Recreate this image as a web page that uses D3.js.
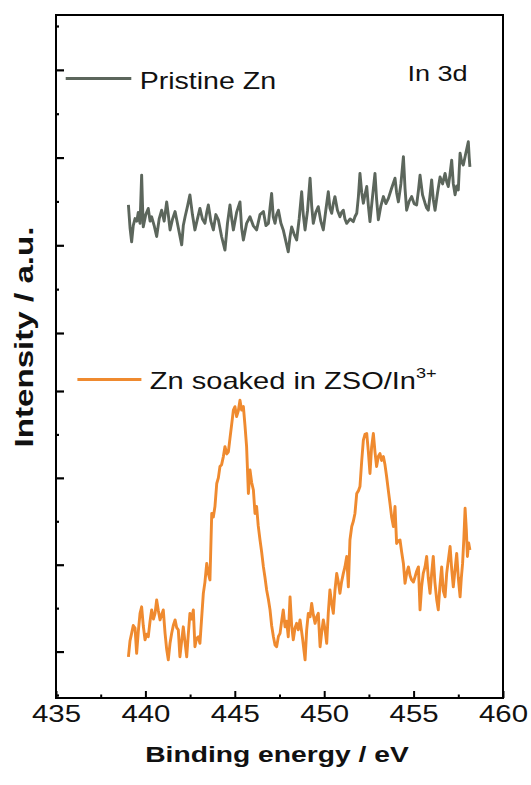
<!DOCTYPE html>
<html>
<head>
<meta charset="utf-8">
<script src="https://cdn.jsdelivr.net/npm/d3@7/dist/d3.min.js"></script>
<style>
  html, body { margin: 0; padding: 0; background: #fff; }
  svg { display: block; }
  text { font-family: "Liberation Sans", Arial, sans-serif; fill: #111; }
</style>
</head>
<body>
<svg id="chart" width="531" height="785"></svg>
<script>
// ---------------- DATA ----------------
const xTicks = [435, 440, 445, 450, 455, 460];
const xMinorTicks = [437.5, 442.5, 447.5, 452.5, 457.5];
const upperMajorTicks = [0, 2, 4, 6];
const upperMinorTicks = [1, 3, 5, 7];
const lowerMajorTicks = [1, 3, 5, 7];
const lowerMinorTicks = [0, 2, 4, 6];

const seriesNames = ["Pristine Zn", "Zn soaked in ZSO/In"];

// Pristine Zn (upper trace), arbitrary units
const energyPristine = [439.05,439.14,439.23,439.32,439.42,439.52,439.60,439.70,439.79,439.84,
  439.88,440.02,440.16,440.26,440.35,440.49,440.63,440.77,440.91,441.05,
  441.19,441.28,441.38,441.52,441.66,441.84,442.03,442.12,442.22,442.36,
  442.49,442.63,442.77,442.91,443.05,443.19,443.33,443.43,443.52,443.66,
  443.80,443.94,444.08,444.26,444.45,444.59,444.73,444.83,444.92,445.10,
  445.29,445.38,445.48,445.66,445.85,446.03,446.22,446.41,446.60,446.74,
  446.88,446.97,447.06,447.15,447.25,447.34,447.44,447.58,447.71,447.85,
  447.99,448.09,448.18,448.32,448.46,448.60,448.74,448.83,448.93,449.07,
  449.21,449.30,449.39,449.53,449.67,449.81,449.95,450.09,450.23,450.32,
  450.42,450.51,450.60,450.74,450.88,450.97,451.07,451.16,451.26,451.45,
  451.63,451.72,451.82,451.91,452.00,452.10,452.19,452.28,452.38,452.47,
  452.56,452.70,452.84,452.93,453.03,453.17,453.31,453.45,453.59,453.77,
  453.96,454.05,454.15,454.29,454.43,454.52,454.61,454.75,454.89,455.03,
  455.17,455.27,455.36,455.50,455.64,455.73,455.82,455.91,456.01,456.10,
  456.20,456.34,456.48,456.62,456.76,456.85,456.94,457.03,457.13,457.22,
  457.32,457.41,457.50,457.55,457.60,457.69,457.78,457.92,458.06,458.11,458.15];
const intensityPristine = [2.92,2.40,2.08,2.45,2.61,2.55,2.75,2.50,3.60,2.90,
  2.42,2.70,2.84,2.55,2.65,2.45,2.20,2.60,2.80,2.55,
  2.99,2.70,2.35,2.60,2.77,2.40,2.01,2.45,2.65,2.90,
  3.15,2.70,2.35,2.60,2.84,2.60,2.50,2.75,2.92,2.55,
  2.35,2.70,2.58,2.20,1.89,2.50,2.92,2.60,2.35,2.75,
  2.99,2.40,2.12,2.50,2.65,2.45,2.35,2.70,2.77,2.45,
  2.50,2.85,3.18,2.65,2.50,2.70,2.80,2.50,2.35,2.10,
  1.85,2.20,2.42,2.25,2.12,2.60,3.22,2.70,2.35,2.80,
  3.53,2.90,2.50,2.75,2.88,2.55,2.35,2.80,3.22,2.85,
  2.73,2.95,3.11,2.80,2.65,2.75,2.80,2.60,2.50,2.60,
  2.54,2.65,2.73,3.10,3.64,3.20,2.96,3.15,3.34,2.90,
  2.54,3.10,3.64,3.05,2.58,2.90,3.11,2.95,3.07,3.30,
  3.53,3.20,2.99,3.40,4.02,3.30,2.80,3.00,3.11,2.95,
  2.92,3.25,3.60,3.15,2.96,2.85,2.80,3.10,3.49,3.05,
  2.80,3.20,3.56,3.40,3.64,3.45,3.34,3.60,3.94,3.40,
  3.15,3.35,3.26,3.70,4.10,3.90,3.83,4.10,4.36,4.00,3.79];

// Zn soaked in ZSO/In3+ (lower trace), arbitrary units
const energySoaked = [439.05,439.14,439.23,439.32,439.42,439.51,439.60,439.70,439.79,439.88,
  439.98,440.07,440.16,440.26,440.35,440.45,440.54,440.63,440.72,440.82,
  440.91,441.00,441.10,441.19,441.28,441.38,441.47,441.56,441.66,441.75,
  441.84,441.93,442.03,442.12,442.22,442.31,442.40,442.49,442.59,442.68,
  442.77,442.86,442.96,443.05,443.15,443.24,443.33,443.43,443.52,443.61,
  443.71,443.80,443.89,443.99,444.08,444.17,444.26,444.36,444.45,444.55,
  444.64,444.73,444.83,444.92,445.01,445.10,445.20,445.29,445.38,445.48,
  445.57,445.66,445.76,445.85,445.94,446.04,446.13,446.22,446.31,446.41,
  446.50,446.60,446.69,446.78,446.88,446.97,447.06,447.16,447.25,447.34,
  447.44,447.53,447.62,447.71,447.81,447.90,447.99,448.09,448.18,448.27,
  448.37,448.46,448.55,448.65,448.79,448.93,449.02,449.11,449.21,449.30,
  449.39,449.49,449.58,449.67,449.77,449.86,449.95,450.05,450.14,450.23,
  450.32,450.42,450.51,450.60,450.70,450.79,450.88,450.97,451.07,451.16,
  451.26,451.35,451.44,451.54,451.63,451.72,451.82,451.91,452.00,452.10,
  452.19,452.28,452.38,452.47,452.56,452.65,452.75,452.84,452.93,453.03,
  453.12,453.21,453.31,453.40,453.49,453.59,453.68,453.77,453.87,453.96,
  454.05,454.15,454.24,454.33,454.43,454.52,454.61,454.71,454.80,454.89,
  454.99,455.08,455.17,455.27,455.36,455.45,455.54,455.64,455.73,455.82,
  455.92,456.01,456.10,456.19,456.29,456.38,456.47,456.57,456.66,456.76,
  456.85,456.94,457.04,457.13,457.22,457.32,457.41,457.50,457.60,457.67,
  457.74,457.81,457.88,457.95,458.01,458.08,458.15];
const intensitySoaked = [0.88,1.25,1.42,1.60,1.54,0.96,1.45,1.88,2.03,1.60,
  1.27,1.40,1.34,1.70,1.96,1.75,1.88,2.19,1.95,1.73,
  1.85,1.96,1.42,1.05,0.81,1.20,1.42,1.60,1.73,1.55,
  1.50,0.88,1.25,1.57,1.20,0.88,1.40,1.88,1.75,1.96,
  1.11,1.30,1.34,1.19,1.80,2.34,2.60,3.03,2.80,2.65,
  4.18,4.10,4.34,4.87,5.00,5.26,5.30,5.49,5.72,5.55,
  5.60,5.91,6.25,6.56,6.64,6.41,6.55,6.79,6.56,6.64,
  6.20,5.72,4.64,5.18,4.90,4.72,4.18,4.34,3.90,3.57,
  3.30,2.95,2.70,2.42,2.20,1.96,1.60,1.34,1.15,1.11,
  1.35,1.42,1.70,1.96,1.57,1.70,1.34,2.26,1.60,1.27,
  1.55,1.65,1.50,1.73,1.30,0.81,1.50,1.88,1.80,2.11,
  1.85,1.65,1.80,1.88,1.11,1.45,1.73,1.50,1.19,1.90,
  2.42,2.10,1.88,2.40,2.80,2.60,2.34,2.60,2.80,2.95,
  3.19,2.49,3.57,3.88,4.00,4.18,4.64,4.70,4.80,5.40,
  5.87,6.00,6.02,5.60,5.10,5.70,6.02,5.60,5.26,5.50,
  5.56,5.40,5.49,5.30,5.03,4.70,4.41,4.10,3.88,4.34,
  3.49,3.55,3.57,3.30,3.03,2.57,2.80,2.95,2.75,2.65,
  2.60,2.72,2.85,2.95,1.96,2.50,2.80,2.95,3.19,2.70,
  2.34,2.80,3.19,2.60,2.20,1.96,2.50,2.95,2.40,2.26,
  2.80,3.10,3.42,2.90,2.49,2.90,3.26,2.70,2.26,2.70,
  3.03,3.60,4.30,3.80,3.19,3.50,3.34];

// ---------------- LAYOUT ----------------
const svg = d3.select("#chart");
const L = 56, R = 503, T = 15, B = 698;
const grey = "#5c665c", orange = "#ef8a2f";

const x = d3.scaleLinear().domain([435, 460]).range([L, R]);
const yUp = d3.scaleLinear().domain([0, 7]).range([333, 26]);
const yLow = d3.scaleLinear().domain([0, 7]).range([695, 391]);

// curves
const line = (ys) => d3.line().x(d => x(d[0])).y(d => ys(d[1]));
const pristine = energyPristine.map((e, i) => [e, intensityPristine[i]]);
const soaked = energySoaked.map((e, i) => [e, intensitySoaked[i]]);

svg.append("path").datum(pristine)
  .attr("d", line(yUp)).attr("fill", "none")
  .attr("stroke", grey).attr("stroke-width", 2.9).attr("stroke-linejoin", "round");
svg.append("path").datum(soaked)
  .attr("d", line(yLow)).attr("fill", "none")
  .attr("stroke", orange).attr("stroke-width", 2.9).attr("stroke-linejoin", "round");

// bottom axis (major with labels)
const gx = svg.append("g").attr("transform", `translate(0,${B})`)
  .call(d3.axisBottom(x).tickValues(xTicks).tickSize(-7).tickPadding(6.8).tickFormat(d3.format("d")));
gx.select(".domain").remove();
gx.selectAll("line").attr("stroke", "#000").attr("stroke-width", 2);
gx.selectAll("text").attr("font-size", 24.5).attr("fill", "#111")
  .attr("font-family", "Liberation Sans, Arial, sans-serif")
  .attr("transform", "scale(1.2,1)");
const gxm = svg.append("g").attr("transform", `translate(0,${B})`)
  .call(d3.axisBottom(x).tickValues(xMinorTicks).tickSize(-3.5).tickFormat(""));
gxm.select(".domain").remove();
gxm.selectAll("line").attr("stroke", "#000").attr("stroke-width", 2);

// left axes (two stacked tick sets, no labels)
function leftTicks(scale, vals, size) {
  const g = svg.append("g").attr("transform", `translate(${L},0)`)
    .call(d3.axisLeft(scale).tickValues(vals).tickSize(-size).tickFormat(""));
  g.select(".domain").remove();
  g.selectAll("line").attr("stroke", "#000").attr("stroke-width", 2.2);
}
leftTicks(yUp, upperMajorTicks, 8);
leftTicks(yUp, upperMinorTicks, 3);
leftTicks(yLow, lowerMajorTicks, 8);
leftTicks(yLow, lowerMinorTicks, 3);

// frame
svg.append("rect").attr("x", L).attr("y", T).attr("width", R - L).attr("height", B - T)
  .attr("fill", "none").attr("stroke", "#000").attr("stroke-width", 2);

// axis titles
svg.append("text").attr("transform", "translate(277,762) scale(1.25,1)")
  .attr("text-anchor", "middle").attr("font-weight", "bold").attr("font-size", 22.6)
  .text("Binding energy / eV");
svg.append("text").attr("transform", "translate(33,337) rotate(-90) scale(1.3,1)")
  .attr("text-anchor", "middle").attr("font-weight", "bold").attr("font-size", 25.5)
  .text("Intensity / a.u.");

// legend
svg.append("line").attr("x1", 65.7).attr("x2", 131.3).attr("y1", 78.5).attr("y2", 78.5)
  .attr("stroke", grey).attr("stroke-width", 3);
svg.append("text").attr("transform", "translate(139.7,89.2) scale(1.19,1)")
  .attr("font-size", 24).text(seriesNames[0]);

svg.append("line").attr("x1", 77.4).attr("x2", 141.4).attr("y1", 379.5).attr("y2", 379.5)
  .attr("stroke", orange).attr("stroke-width", 3);
const t2 = svg.append("text").attr("transform", "translate(149.8,388.6) scale(1.21,1)")
  .attr("font-size", 24);
t2.append("tspan").text(seriesNames[1]);
t2.append("tspan").attr("font-size", 15).attr("dy", -11).text("3+");

svg.append("text").attr("transform", "translate(407.4,80.8) scale(1.26,1)")
  .attr("font-size", 21.5).text("In 3d");
</script>
</body>
</html>
